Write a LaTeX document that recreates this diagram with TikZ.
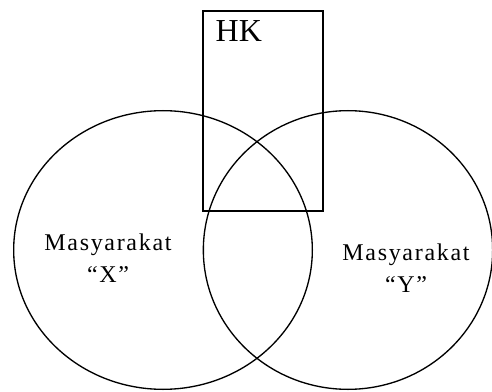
\documentclass[tikz,border=0pt]{standalone}
\usepackage{fontspec}
\setmainfont{Liberation Serif}
\usepackage{tikz}
\usetikzlibrary{shapes.geometric,positioning}

\begin{document}
\begin{tikzpicture}[
  x=0.75pt, y=-0.75pt,
  set/.style={draw, ellipse, line width=1pt, minimum width=224pt, minimum height=209pt, inner sep=0pt},
  grp/.style={draw, line width=1pt, minimum width=90pt, minimum height=150pt, inner sep=0pt},
  lbl/.style={align=center, font=\fontsize{18}{24}\selectfont\addfontfeatures{LetterSpace=7}}
]
\useasboundingbox (0,0) rectangle (492,392);
\node[set] (setX) at (163,250) {};
\node[set, minimum width=217pt] (setY) at (348,250) {};
\node[grp] (hk) at (263,111) {};
\node[font=\fontsize{24}{26}\selectfont, anchor=north west] (hklbl) at (211,16) {HK};
\node[lbl] (lblX) at (108,258) {Masyarakat\\``X''};
\node[lbl] (lblY) at (406,268) {Masyarakat\\``Y''};
\end{tikzpicture}
\end{document}
